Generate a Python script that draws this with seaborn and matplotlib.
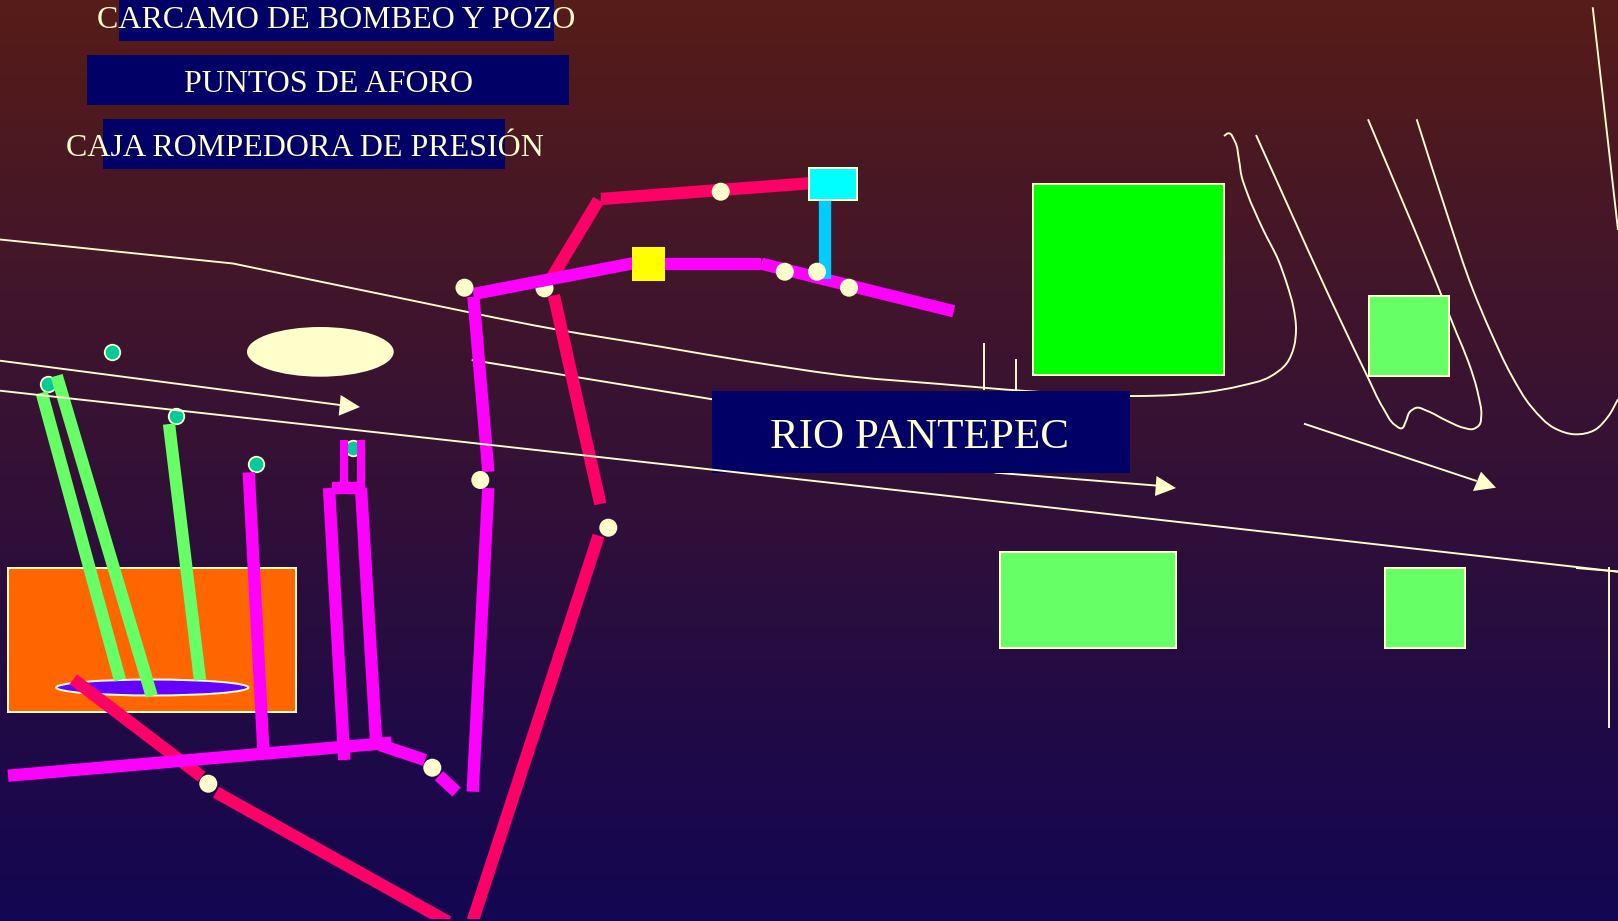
import numpy as np
import pandas as pd
import matplotlib
matplotlib.use("Agg")
import matplotlib.pyplot as plt
import seaborn as sns
from matplotlib.patches import Rectangle, Ellipse, Polygon, PathPatch
from matplotlib.path import Path

CREAM = "#FFFFCC"; NAVY = "#000066"; MAGENTA = "#FF00FF"; RED = "#FF0066"
LGREEN = "#66FF66"; TEAL = "#00CC99"

# ---- labels
label_boxes = [(119.4, 0, 553.6, 41), (87.4, 55, 569.4, 105), (103, 119, 505, 169)]
label_texts = ["CARCAMO DE BOMBEO Y POZO", "PUNTOS DE AFORO", "CAJA ROMPEDORA DE PRESIÓN"]
label_pos = [(336.5, 17), (328.5, 81), (305, 145)]
river_box = (712, 391, 1129.6, 472.7)
river_text = "RIO PANTEPEC"
river_pos = (920, 433)

# ---- areas
big_green = (1032.6, 183.5, 1225, 376)
light_green = [(1368.3, 295.5, 1449.3, 376.3), (999.7, 551, 1177, 648), (1384.6, 567.3, 1465.5, 648)]
orange_area = (8, 567.7, 296.7, 712)
cyan_tank = (808.6, 167.5, 858, 200.3)
yellow_box = (631.7, 247, 665.5, 280.7)
cream_ellipse = (247, 327, 393.7, 376.7)
purple_ellipse = (55.7, 679, 249, 696)

# ---- thin lines
bank_top = [(233, 263.5), (400, 298), (553.8, 329), (660.7, 346.7), (750, 361.7),
            (854, 376.7), (940, 384), (1026, 391), (1140, 396), (1173.3, 395), (1206.7, 392), (1240, 386),
            (1270, 376.7), (1286.7, 363.3), (1294, 346.7), (1296, 330), (1293.3, 306.7), (1286.7, 283.3),
            (1278.3, 260), (1263.3, 230), (1246.7, 191.7), (1241.7, 176.7), (1239, 160), (1235, 141.7),
            (1228.3, 133.3), (1224, 136)]
river_a = [(1256, 135), (1340, 319.3), (1366.7, 375), (1383.3, 408.3), (1395, 425), (1401.7, 428.3),
           (1405.7, 421.7), (1410, 411.7), (1416.7, 407.7), (1426.7, 410.7), (1446.7, 420.7), (1463.3, 427.7),
           (1473.3, 429), (1479.3, 425), (1481.3, 415), (1478.3, 395), (1468.3, 361.7), (1456.7, 333.3),
           (1449.3, 315), (1440, 291.7), (1368, 119.3)]
river_b = [(1416.7, 119.3), (1446.7, 213), (1473, 290), (1491.3, 333.3), (1511.3, 375), (1531.3, 406.7),
           (1554.7, 428.3), (1574.7, 434.3), (1594.7, 430), (1608, 416.7), (1618, 399.3)]
straight_thin = [
    [(0, 239.5), (233, 263.5)],
    [(1592.7, 7.3), (1618, 230)],
    [(471.7, 360), (712.4, 399.3), (996, 472.7), (1158, 485.7)],
    [(0, 360.7), (340, 405)],
    [(1304, 423.7), (1476.7, 481)],
    [(983.7, 343), (983.7, 390)],
    [(1016, 359), (1016, 390)],
    [(1609, 567), (1609, 728)],
    [(1576, 568), (1618, 571.5)],
]
road_long = [(0, 390.7), (500, 446), (940, 495), (1618, 571.7)]
arrow_heads = [
    [(360, 407), (340.7, 395), (338.7, 415.7)],
    [(1176, 488), (1156.5, 476), (1155, 496)],
    [(1496, 487.7), (1481, 471.7), (1473, 491)],
]

# ---- thick pipes
green_pipes = [[(41.7, 392.7), (120, 680)], [(56.7, 375.7), (151.7, 696)], [(169, 424), (200, 680)]]
red_pipes = [
    [(809, 183.3), (601, 199)],
    [(598.6, 200), (551, 279)],
    [(553.8, 295.3), (600.3, 504)],
    [(598.6, 535.7), (472, 923)],
    [(73.3, 679.3), (201.7, 776.7)],
    [(216, 792.3), (450, 923)],
]
magenta_pipes = [
    [(248.7, 472.3), (263.3, 749)],
    [(8, 775.7), (391.7, 742.7)],
    [(329, 488), (344.3, 760)],
    [(361, 488), (376, 740)],
    [(332, 488), (365, 488)],
    [(380, 745), (425, 760)],
    [(439, 775.7), (456.5, 792)],
    [(488.3, 488), (472.7, 791.7)],
    [(473.4, 296.7), (488.3, 471.7)],
    [(473.4, 294), (633, 263.3)],
    [(664, 263.7), (761.4, 263.7)],
    [(761.4, 263.7), (953.8, 311.3)],
]
magenta_risers = [[(344.3, 440), (344.3, 482)], [(360.7, 440), (360.7, 482)]]
blue_pipe = [(825, 200), (825, 279)]

# ---- points
aforo_under_x = [544.5]
aforo_under_y = [288.3]
aforo_x = [720.7, 464.5, 784.8, 817, 849, 480.3, 608.3, 208.3, 432.3]
aforo_y = [191.7, 287.7, 271.7, 271.7, 287.7, 480, 527.7, 783.7, 767.7]
well_x = [112.3, 48, 176.3, 256.3, 352.7]
well_y = [351.7, 383.7, 415.7, 463.7, 447.7]

W, H = 1618, 921
sns.set_theme(style="white")
plt.rcParams["font.family"] = ["Liberation Serif", "DejaVu Serif"]
fig = plt.figure(figsize=(W / 100, H / 100), dpi=100)
ax = fig.add_axes([0, 0, 1, 1])
ax.set_axis_off()

top = np.array([0x56, 0x1C, 0x19]) / 255
bot = np.array([0x13, 0x06, 0x52]) / 255
t = np.linspace(0, 1, 60)[:, None, None]
ax.imshow(top[None, None, :] * (1 - t) + bot[None, None, :] * t, extent=(0, W, H, 0), aspect="auto",
          interpolation="nearest", zorder=0)


def px(v):
    return v * 0.72


def pipe(pts, color, width, z):
    d = pd.DataFrame(pts, columns=["x", "y"])
    before = len(ax.lines)
    sns.lineplot(data=d, x="x", y="y", sort=False, estimator=None, color=color, lw=px(width),
                 solid_capstyle="butt", solid_joinstyle="miter", zorder=z, ax=ax, legend=False)
    for ln in ax.lines[before:]:
        ln.set_clip_path(Rectangle((0, 0), W, 919, transform=ax.transData))


def smooth(pts, z):
    p = np.array(pts, float)
    n = len(p)
    seg = np.linalg.norm(np.diff(p, axis=0), axis=1)
    tan = np.zeros_like(p)
    tan[0] = (p[1] - p[0]) / seg[0]
    tan[-1] = (p[-1] - p[-2]) / seg[-1]
    for i in range(1, n - 1):
        a, b = seg[i - 1], seg[i]
        v = (b * (p[i] - p[i - 1]) / a + a * (p[i + 1] - p[i]) / b) / (a + b)
        tan[i] = v / np.linalg.norm(v)
    verts = [p[0]]; codes = [Path.MOVETO]
    for i in range(n - 1):
        h = seg[i] / 3
        verts += [p[i] + tan[i] * h, p[i + 1] - tan[i + 1] * h, p[i + 1]]
        codes += [Path.CURVE4] * 3
    ax.add_patch(PathPatch(Path(verts, codes), fill=False, ec=CREAM, lw=px(1.9), zorder=z))


def rect(b, fc, ec=CREAM, z=2, lw=2):
    i = lw / 4
    ax.add_patch(Rectangle((b[0] + i, b[1] + i), b[2] - b[0] - 2 * i, b[3] - b[1] - 2 * i, fc=fc, ec=ec,
                           lw=px(lw), joinstyle="miter", zorder=z))


def dots(x, y, color, d, ec, z, elw=0):
    sns.scatterplot(x=x, y=y, color=color, s=px(d) ** 2, edgecolor=ec, linewidth=px(elw), zorder=z,
                    ax=ax, legend=False)


# thin lines (below areas)
smooth(bank_top, 1.5)
smooth(river_a, 1.5)
smooth(river_b, 1.5)
for seg in straight_thin:
    pipe(seg, CREAM, 1.9, 1.5)
for tri in arrow_heads:
    ax.add_patch(Polygon(tri, closed=True, fc=CREAM, ec="none", zorder=1.6))

# areas
rect(big_green, "#00FF00")
for b in light_green:
    rect(b, LGREEN)
rect(orange_area, "#FF6600")
ax.add_patch(Ellipse(((cream_ellipse[0] + cream_ellipse[2]) / 2, (cream_ellipse[1] + cream_ellipse[3]) / 2),
                     cream_ellipse[2] - cream_ellipse[0], cream_ellipse[3] - cream_ellipse[1],
                     fc=CREAM, ec="none", zorder=2))
ax.add_patch(Ellipse(((purple_ellipse[0] + purple_ellipse[2]) / 2, (purple_ellipse[1] + purple_ellipse[3]) / 2),
                     purple_ellipse[2] - purple_ellipse[0] - 1, purple_ellipse[3] - purple_ellipse[1] - 1,
                     fc="#6600FF", ec=CREAM, lw=px(2), zorder=2.1))

# points under the pipes
dots(well_x, well_y, TEAL, 15.5, CREAM, 2.5, 1.8)
dots(aforo_under_x, aforo_under_y, CREAM, 18, "none", 2.5)

# pipes
PIPE_W = 12.3
for seg in red_pipes:
    pipe(seg, RED, PIPE_W, 3)
for seg in green_pipes:
    pipe(seg, LGREEN, PIPE_W, 3.2)
for seg in magenta_pipes:
    pipe(seg, MAGENTA, PIPE_W, 3.4)
for seg in magenta_risers:
    pipe(seg, MAGENTA, 8, 3.4)
pipe(blue_pipe, "#00CCFF", PIPE_W, 3.5)

rect(cyan_tank, "#00FFFF", z=3.6)
rect(yellow_box, "#FFFF00", ec="none", z=3.6, lw=0)
dots(aforo_x, aforo_y, CREAM, 18, "none", 4)

# label boxes and the road over them
for b in label_boxes:
    rect(b, NAVY, ec="none", z=2.2, lw=0)
rect(river_box, NAVY, ec="none", z=2.2, lw=0)
pipe(road_long, CREAM, 1.9, 3.8)

for s, (x, y) in zip(label_texts, label_pos):
    ax.text(x, y, s, color=CREAM, fontsize=23.05, ha="center", va="center_baseline", zorder=5)
ax.text(river_pos[0], river_pos[1], river_text, color=CREAM, fontsize=31.1, ha="center",
        va="center_baseline", zorder=5)

ax.set_xlim(0, W)
ax.set_ylim(H, 0)
ax.set_xlabel(""); ax.set_ylabel("")
fig.savefig("out.png", dpi=100)
